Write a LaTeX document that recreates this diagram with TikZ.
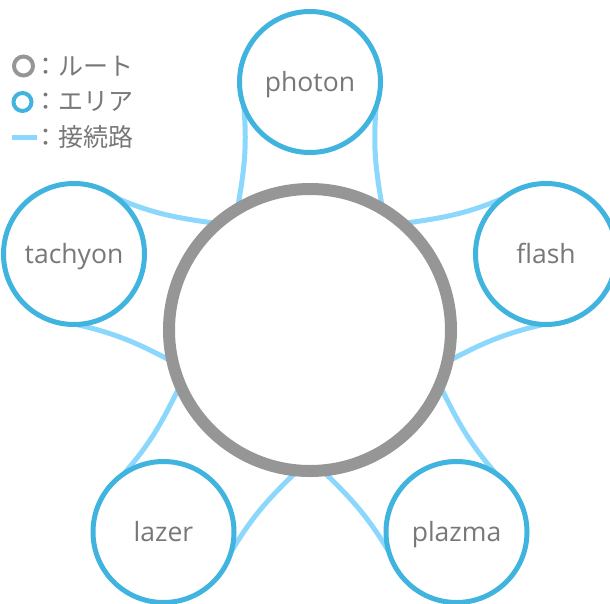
\documentclass[tikz,border=0pt]{standalone}
\usepackage{fontspec}
\setmainfont{Open Sans}
\newfontfamily\jpfont{Noto Sans CJK JP}
\usetikzlibrary{backgrounds}
\definecolor{rootgray}{HTML}{969696}
\definecolor{areablue}{HTML}{40B4DE}
\definecolor{linkblue}{HTML}{8CD8FC}
\definecolor{textgray}{HTML}{787878}
\begin{document}
\begin{tikzpicture}[x=1pt,y=1pt,
  root/.style={circle, draw=rootgray, line width=12pt, fill=white, minimum size=282pt, inner sep=0pt, outer sep=0pt},
  area/.style={circle, draw=areablue, line width=5pt, fill=white, minimum size=141pt, inner sep=0pt, outer sep=0pt, text=textgray, text height=19pt, text depth=1pt, font=\fontsize{26.5}{30}\selectfont},
  conn/.style={draw=linkblue, line width=5pt},
  legend/.style={anchor=west, inner sep=0pt, outer sep=0pt, text=textgray, font=\jpfont\fontsize{25}{28}\selectfont}]
\useasboundingbox (0,0) rectangle (610,-603);
\clip (0,0) rectangle (610,-603);
\node[root] (root) at (310,-330) {};
\node[area] (photon) at (310,-82) {photon};
\node[area] (tachyon) at (74,-254) {tachyon};
\node[area] (flash) at (546,-254) {flash};
\node[area] (lazer) at (163.5,-532) {lazer};
\node[area] (plazma) at (456.5,-532) {plazma};
\begin{scope}[on background layer]
\foreach \n/\d in {photon/-90, tachyon/-18, flash/198, lazer/54, plazma/126} {
  \pgfmathtruncatemacro\sa{\d-70}
  \pgfmathtruncatemacro\sb{\d+70}
  \pgfmathtruncatemacro\ea{\d+180+31}
  \pgfmathtruncatemacro\eb{\d+180-31}
  \pgfmathtruncatemacro\oa{\d+5}
  \pgfmathtruncatemacro\ob{\d-5}
  \pgfmathtruncatemacro\ia{\d+180-10}
  \pgfmathtruncatemacro\ib{\d+180+10}
  \draw[conn] (\n.\sa) to[out=\oa, in=\ia] (root.\ea);
  \draw[conn] (\n.\sb) to[out=\ob, in=\ib] (root.\eb);
}
\end{scope}
% legend
\node[circle, draw=rootgray, line width=4pt, minimum size=19pt, inner sep=0pt] (lgroot) at (23.5,-66) {};
\node[circle, draw=areablue, line width=4pt, minimum size=18pt, inner sep=0pt] (lgarea) at (22.5,-102) {};
\coordinate (lga) at (12,-137);
\coordinate (lgb) at (37,-137);
\draw[linkblue, line width=5pt] (lga) -- (lgb);
\node[legend] (t1) at (33,-66) {：ルート};
\node[legend] (t2) at (33,-102) {：エリア};
\node[legend] (t3) at (33,-137) {：接続路};
\end{tikzpicture}
\end{document}
